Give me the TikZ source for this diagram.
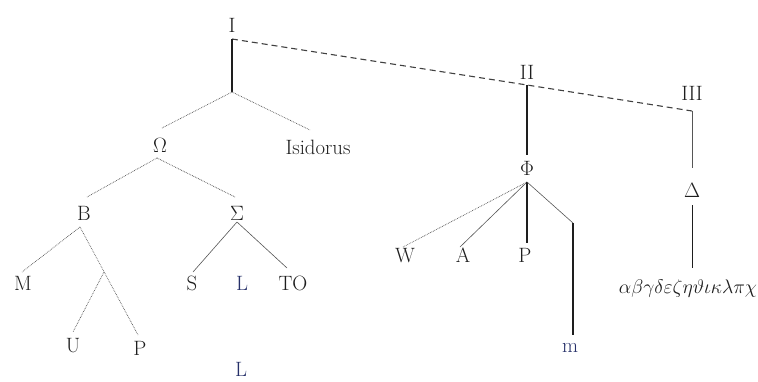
\documentclass[tikz,border=0pt]{standalone}
\definecolor{ink}{RGB}{30,30,30}
\definecolor{navy}{RGB}{38,48,105}
\begin{document}
\begin{tikzpicture}[x=1pt,y=-1pt,
  lab/.style={anchor=base, inner sep=0pt, text=ink, font=\huge},
  bluelab/.style={lab, text=navy},
  stem/.style={draw=ink, line width=1.4pt},
  midstem/.style={draw=ink, line width=1pt},
  fine/.style={draw=ink!75, line width=0.6pt},
  dotline/.style={draw=ink!80, line width=0.7pt, densely dotted},
  dashline/.style={draw=ink!85, line width=1.1pt, dash pattern=on 6pt off 4pt}]
\useasboundingbox (0,0) rectangle (758,381);
% labels
\node[lab] (I) at (232,32) {I};
\node[lab] (II) at (527,79) {II};
\node[lab] (III) at (692,100) {III};
\node[lab] (Isi) at (318,154) {Isidorus};
\node[lab] (Om) at (160,152) {$\Omega$};
\node[lab] (Ph) at (527,175) {$\Phi$};
\node[lab] (De) at (692,197) {$\Delta$};
\node[lab] (B) at (84,220) {B};
\node[lab] (Sg) at (237,220) {$\Sigma$};
\node[lab] (M) at (23,290) {M};
\node[lab] (S) at (192,290) {S};
\node[bluelab] (L) at (242,290) {L};
\node[lab] (TO) at (293,290) {TO};
\node[lab] (U) at (73,352) {U};
\node[lab] (P) at (140,355) {P};
\node[lab] (W) at (405,262) {W};
\node[lab] (A) at (463,262) {A};
\node[lab] (P2) at (525,262) {P};
\node[bluelab] (m) at (570,352) {m};
\node[lab, scale=0.95] (Gr) at (688,293) {$\alpha\beta\gamma\delta\varepsilon\zeta\eta\vartheta\iota\kappa\lambda\pi\chi$};
\node[bluelab] (L2) at (241,376) {L};
% junction points
\coordinate (Itop) at (232,39);
\coordinate (Ij) at (232,92);
\coordinate (IItop) at (527,85);
\coordinate (IIItop) at (692,111);
\coordinate (OmT) at (162,128);
\coordinate (IsiT) at (310,130);
\coordinate (OmB) at (157,158);
\coordinate (BT) at (87,197);
\coordinate (SgT) at (235,197);
\coordinate (BB) at (80,227);
\coordinate (MT) at (22,272);
\coordinate (PT) at (138,335);
\coordinate (Ub) at (104,272);
\coordinate (UT) at (73,332);
\coordinate (SgB) at (237,222);
\coordinate (ST) at (193,272);
\coordinate (TOT) at (287,268);
\coordinate (PhT) at (527,155);
\coordinate (PhB) at (527,182);
\coordinate (WT) at (403,247);
\coordinate (AT) at (460,247);
\coordinate (P2T) at (527,243);
\coordinate (mC) at (573,223);
\coordinate (mB) at (573,335);
\coordinate (DT) at (692,168);
\coordinate (DB) at (692,205);
\coordinate (GT) at (692,268);
% connectors
\draw[dashline] (Itop) -- (IItop) -- (IIItop);
\draw[stem] (Itop) -- (Ij);
\draw[dotline] (Ij) -- (OmT);
\draw[dotline] (Ij) -- (IsiT);
\draw[dotline] (OmB) -- (BT);
\draw[dotline] (OmB) -- (SgT);
\draw[dotline] (BB) -- (MT);
\draw[dotline] (BB) -- (PT);
\draw[dotline] (Ub) -- (UT);
\draw[fine] (SgB) -- (ST);
\draw[fine] (SgB) -- (TOT);
\draw[stem] (IItop) -- (PhT);
\draw[dotline] (PhB) -- (WT);
\draw[fine] (PhB) -- (AT);
\draw[stem] (PhB) -- (P2T);
\draw[fine] (PhB) -- (mC);
\draw[stem] (mC) -- (mB);
\draw[fine] (IIItop) -- (DT);
\draw[midstem] (DB) -- (GT);
\end{tikzpicture}
\end{document}
